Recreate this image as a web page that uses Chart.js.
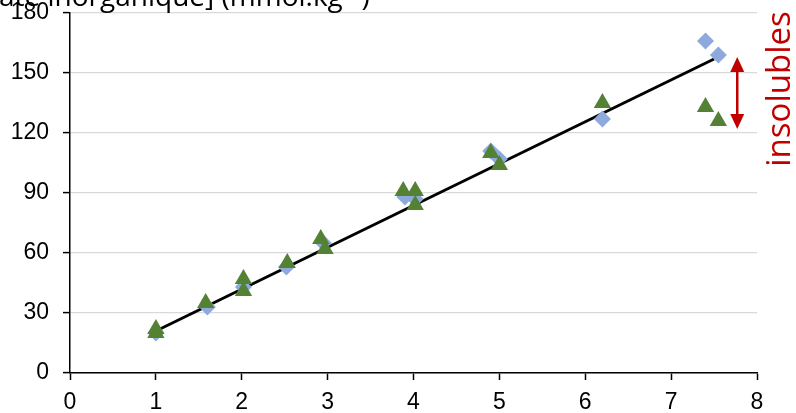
<!DOCTYPE html>
<html>
<head>
<meta charset="utf-8">
<script src="https://cdn.jsdelivr.net/npm/chart.js@4/dist/chart.umd.min.js"></script>
<style>
  html, body { margin: 0; padding: 0; background: #ffffff; }
  #wrap { position: relative; width: 796px; height: 413px; }
</style>
</head>
<body>
<div id="wrap"><canvas id="chart" width="796" height="413"></canvas></div>
<script>
// diamonds (blue)
const diamondX = [1.0, 1.6, 2.02, 2.52, 2.95, 3.9, 4.02, 4.9, 5.0, 6.2, 7.4, 7.55];
const diamondY = [20, 33, 43, 53, 65, 88, 87, 111, 107, 127, 166, 159];
// triangles (green)
const triangleX = [1.0, 1.0, 1.58, 2.02, 2.02, 2.53, 2.92, 2.97, 3.88, 4.02, 4.02, 4.9, 5.0, 6.2, 7.4, 7.55];
const triangleY = [22, 20, 35, 47, 41, 55, 67, 62, 91, 91, 84, 110, 104, 135, 133, 126];
// fitted line
const fitX = [1.0, 7.5];
const fitY = [21, 157];
// arrow + label
const arrowX = 7.77;
const arrowTop = 158;
const arrowBottom = 122;
const arrowLabel = 'insolubles';
const titleText = 'ate inorganique] (mmol.kg⁻¹)';

const xTicks = [0, 1, 2, 3, 4, 5, 6, 7, 8];
const yTicks = [0, 30, 60, 90, 120, 150, 180];

const toPoints = (xs, ys) => xs.map((x, i) => ({ x, y: ys[i] }));

const annotations = {
  id: 'annotations',
  afterDatasetsDraw(chart) {
    const { ctx, scales } = chart;
    const x = scales.x.getPixelForValue(arrowX);
    const yTop = scales.y.getPixelForValue(arrowTop);
    const yBot = scales.y.getPixelForValue(arrowBottom);
    const red = '#C00000';
    const head = 15;
    const half = 7;

    ctx.save();
    ctx.strokeStyle = red;
    ctx.fillStyle = red;
    ctx.lineWidth = 2.5;
    ctx.beginPath();
    ctx.moveTo(x, yTop + head - 2);
    ctx.lineTo(x, yBot - head + 2);
    ctx.stroke();

    ctx.beginPath();
    ctx.moveTo(x, yTop);
    ctx.lineTo(x - half, yTop + head);
    ctx.lineTo(x + half, yTop + head);
    ctx.closePath();
    ctx.fill();

    ctx.beginPath();
    ctx.moveTo(x, yBot);
    ctx.lineTo(x - half, yBot - head);
    ctx.lineTo(x + half, yBot - head);
    ctx.closePath();
    ctx.fill();

    // rotated label
    ctx.translate(790, 89);
    ctx.rotate(-Math.PI / 2);
    ctx.font = '33px "Open Sans", sans-serif';
    ctx.textAlign = 'center';
    ctx.textBaseline = 'alphabetic';
    ctx.fillText(arrowLabel, 0, 0);
    ctx.restore();

    // clipped axis title at the top
    ctx.save();
    ctx.fillStyle = '#000000';
    ctx.font = '28px "Open Sans", sans-serif';
    ctx.textAlign = 'left';
    ctx.textBaseline = 'alphabetic';
    ctx.fillText(titleText, -1, 6);
    ctx.restore();
  },
};

new Chart(document.getElementById('chart').getContext('2d'), {
  type: 'scatter',
  data: {
    datasets: [
      {
        label: 'triangles',
        data: toPoints(triangleX, triangleY),
        pointStyle: 'triangle',
        pointRadius: 10,
        pointBackgroundColor: '#548235',
        pointBorderColor: '#548235',
        pointBorderWidth: 0,
        order: 0,
      },
      {
        label: 'diamonds',
        data: toPoints(diamondX, diamondY),
        pointStyle: 'rectRot',
        pointRadius: 8.5,
        pointBackgroundColor: '#8EA9DB',
        pointBorderColor: '#8EA9DB',
        pointBorderWidth: 0,
        order: 1,
      },
      {
        label: 'fit',
        type: 'line',
        data: toPoints(fitX, fitY),
        borderColor: '#000000',
        borderWidth: 3,
        pointRadius: 0,
        showLine: true,
        fill: false,
        order: 2,
      },
    ],
  },
  options: {
    responsive: false,
    animation: false,
    layout: { padding: { top: 13, right: 39, left: 0, bottom: 0 } },
    plugins: {
      legend: { display: false },
      tooltip: { enabled: false },
    },
    scales: {
      x: {
        type: 'linear',
        min: 0,
        max: 8,
        afterFit: (scale) => {
          scale.height = 40;
          scale.paddingLeft = 0;
          scale.paddingRight = 0;
        },
        afterBuildTicks: (scale) => { scale.ticks = xTicks.map((value) => ({ value })); },
        border: { display: true, color: '#000000', width: 1.5 },
        grid: {
          drawOnChartArea: false,
          drawTicks: true,
          tickLength: 7,
          tickColor: '#000000',
          tickWidth: 1.5,
        },
        ticks: {
          color: '#000000',
          padding: 9,
          font: { family: '"Liberation Sans", Arial, sans-serif', size: 23 },
        },
      },
      y: {
        type: 'linear',
        min: 0,
        max: 180,
        afterFit: (scale) => {
          scale.width = 70;
          scale.paddingTop = 0;
          scale.paddingBottom = 0;
        },
        afterBuildTicks: (scale) => { scale.ticks = yTicks.map((value) => ({ value })); },
        border: { display: true, color: '#000000', width: 1.5 },
        grid: {
          color: '#D9D9D9',
          lineWidth: 1.2,
          drawTicks: true,
          tickLength: 7,
          tickColor: '#000000',
          tickWidth: 1.5,
        },
        ticks: {
          color: '#000000',
          padding: 14,
          font: { family: '"Liberation Sans", Arial, sans-serif', size: 23 },
        },
      },
    },
  },
  plugins: [annotations],
});
</script>
</body>
</html>
